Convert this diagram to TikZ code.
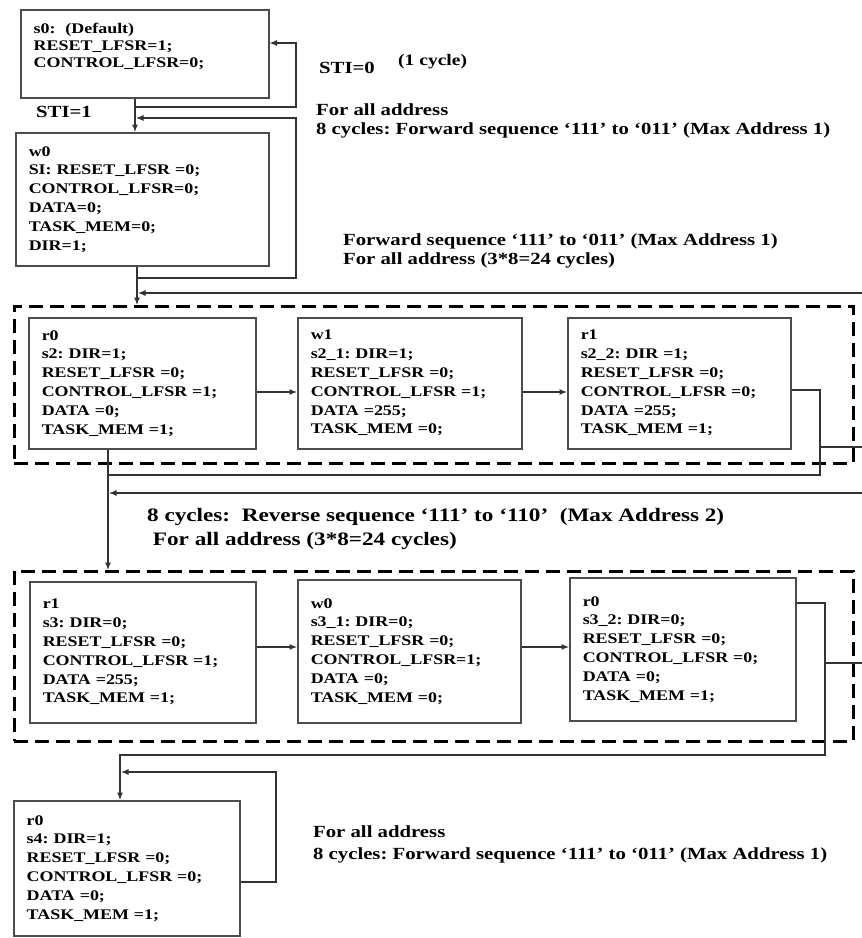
\documentclass[tikz,border=0pt]{standalone}
\usepackage{fontspec}
\setmainfont{Liberation Serif}[FakeStretch=1.22]
\usetikzlibrary{arrows.meta}
\begin{document}
\frenchspacing
\begin{tikzpicture}[x=1pt,y=-1pt,
  stbox/.style={draw=black!70, line width=1.5pt, fill=white, anchor=north west,
    align=left, inner xsep=13pt, inner ysep=3pt,
    font=\bfseries\fontsize{14.7}{18.8}\selectfont},
  grp/.style={draw=black, line width=2.6pt, dash pattern=on 14pt off 7pt,
    anchor=north west, inner sep=0pt},
  conn/.style={draw=black!80, line width=1.1pt},
  arr/.style={conn, -{Latex[length=7.5pt,width=6pt]}},
  note/.style={anchor=west, align=left, inner sep=0pt,
    font=\bfseries\fontsize{17}{19.5}\selectfont}
]
\fill[white] (0,0) rectangle (862,938);
\useasboundingbox (0,0) rectangle (862,938);

% group frames
\node[grp, minimum width=839pt, minimum height=157pt] (g1) at (13,305) {};
\node[grp, minimum width=839pt, minimum height=170pt] (g2) at (13,570) {};

% state boxes
\node[stbox, minimum width=248pt, minimum height=88pt, text width=222pt,
      font=\bfseries\fontsize{14.7}{17}\selectfont] (s0) at (20,9)
  {s0:\ \ (Default)\\RESET\_LFSR=1;\\CONTROL\_LFSR=0;\\\mbox{}};
\node[stbox, minimum width=253pt, minimum height=133pt, text width=227pt] (w0) at (15,132)
  {w0\\SI: RESET\_LFSR =0;\\CONTROL\_LFSR=0;\\DATA=0;\\TASK\_MEM=0;\\DIR=1;};

\node[stbox, minimum width=227pt, minimum height=131pt, text width=201pt] (r0a) at (28,317)
  {r0\\s2: DIR=1;\\RESET\_LFSR =0;\\CONTROL\_LFSR =1;\\DATA =0;\\TASK\_MEM =1;};
\node[stbox, minimum width=224pt, minimum height=131pt, text width=198pt] (w1) at (297,317)
  {w1\\s2\_1: DIR=1;\\RESET\_LFSR =0;\\CONTROL\_LFSR =1;\\DATA =255;\\TASK\_MEM =0;};
\node[stbox, minimum width=223pt, minimum height=131pt, text width=197pt] (r1a) at (567,317)
  {r1\\s2\_2: DIR =1;\\RESET\_LFSR =0;\\CONTROL\_LFSR =0;\\DATA =255;\\TASK\_MEM =1;};

\node[stbox, minimum width=226pt, minimum height=141pt, text width=200pt] (r1b) at (29,581)
  {r1\\s3: DIR=0;\\RESET\_LFSR =0;\\CONTROL\_LFSR =1;\\DATA =255;\\TASK\_MEM =1;};
\node[stbox, minimum width=223pt, minimum height=143pt, text width=197pt] (w0b) at (297,579)
  {w0\\s3\_1: DIR=0;\\RESET\_LFSR =0;\\CONTROL\_LFSR=1;\\DATA =0;\\TASK\_MEM =0;};
\node[stbox, minimum width=226pt, minimum height=143pt, text width=200pt] (r0b) at (569,577)
  {r0\\s3\_2: DIR=0;\\RESET\_LFSR =0;\\CONTROL\_LFSR =0;\\DATA =0;\\TASK\_MEM =1;};

\node[stbox, minimum width=226pt, minimum height=135pt, text width=200pt] (r0c) at (13,800)
  {r0\\s4: DIR=1;\\RESET\_LFSR =0;\\CONTROL\_LFSR =0;\\DATA =0;\\TASK\_MEM =1;};

% annotations
\node[note] (sti1) at (36,112) {STI=1};
\node[note] (sti0) at (319,68) {STI=0};
\node[note, font=\bfseries\fontsize{16}{19}\selectfont] (cyc1) at (398,62) {(1 cycle)};
\node[note] (n1) at (316,121) {For all address\\8 cycles: Forward sequence `111' to `011' (Max Address 1)};
\node[note] (n2) at (343,251) {Forward sequence `111' to `011' (Max Address 1)\\For all address (3*8=24 cycles)};
\node[note, font=\bfseries\fontsize{19}{24}\selectfont] (n3) at (147,529)
  {8 cycles:\ \ Reverse sequence `111' to `110'\ \ (Max Address 2)\\\ For all address (3*8=24 cycles)};
\node[note, font=\bfseries\fontsize{17}{22}\selectfont] (n4) at (313,844) {For all address\\8 cycles: Forward sequence `111' to `011' (Max Address 1)};

% lane coordinates
\coordinate (x135) at (135,0);
\coordinate (x137) at (137,0);
\coordinate (x108) at (108,0);
\coordinate (x120) at (120,0);
\coordinate (y392) at (0,392);
\coordinate (y647) at (0,647);
\coordinate (y390) at (0,390);
\coordinate (y603) at (0,603);
\coordinate (y882) at (0,882);

% connectors
\draw[arr] (s0.south -| x135) -- (w0.north -| x135);
\coordinate (j1) at (135,107);
\coordinate (b1) at (296,43);
\draw[arr] (j1) -| (b1) -- (s0.east |- b1);

\coordinate (j2) at (137,278);
\coordinate (b2) at (296,118);
\coordinate (e2) at (136,118);
\draw[arr] (j2) -| (b2) -- (e2);

\draw[arr] (w0.south -| x137) -- (g1.north -| x137);
\coordinate (R1) at (862,293);
\coordinate (e5) at (138,293);
\draw[arr] (R1) -- (e5);

\draw[arr] (r0a.east |- y392) -- (w1.west |- y392);
\draw[arr] (w1.east |- y392) -- (r1a.west |- y392);

\coordinate (b8) at (820,475);
\coordinate (e8) at (108,475);
\draw[conn] (r1a.east |- y390) -| (b8) -- (e8);
\coordinate (k1) at (820,447);
\coordinate (R2) at (862,447);
\draw[conn] (k1) -- (R2);

\draw[arr] (r0a.south -| x108) -- (g2.north -| x108);
\coordinate (R3) at (862,493);
\coordinate (e11) at (109,493);
\draw[arr] (R3) -- (e11);

\draw[arr] (r1b.east |- y647) -- (w0b.west |- y647);
\draw[arr] (w0b.east |- y647) -- (r0b.west |- y647);

\coordinate (b13) at (825,755);
\draw[arr] (r0b.east |- y603) -| (b13) -| (r0c.north -| x120);
\coordinate (k2) at (825,663);
\coordinate (R4) at (862,663);
\draw[conn] (k2) -- (R4);

\coordinate (b15) at (276,772);
\coordinate (e15) at (121,772);
\draw[arr] (r0c.east |- y882) -| (b15) -- (e15);
\end{tikzpicture}
\end{document}
